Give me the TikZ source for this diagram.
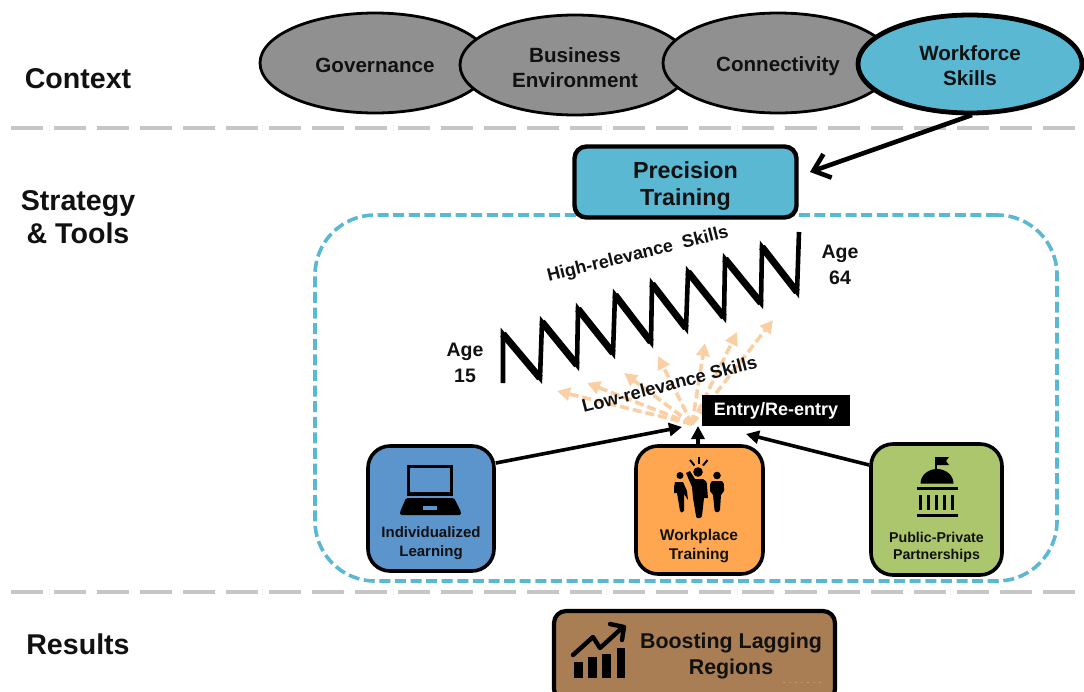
\documentclass[tikz,border=0pt]{standalone}
\usepackage{fontspec}
\setmainfont{Liberation Sans}
\usetikzlibrary{arrows.meta,shapes.geometric}
\definecolor{ink}{HTML}{111111}
\definecolor{ovalgray}{HTML}{909090}
\definecolor{teal}{HTML}{5AB8D3}
\definecolor{sepgray}{HTML}{C6C6C6}
\definecolor{boxblue}{HTML}{5C94CC}
\definecolor{boxorange}{HTML}{FFA750}
\definecolor{boxgreen}{HTML}{ABC66C}
\definecolor{boxbrown}{HTML}{A97E55}
\definecolor{peach}{HTML}{F9CFA3}
\definecolor{dotbrown}{HTML}{BC9A76}
\newcommand{\fs}[2]{\fontsize{#1}{#2}\selectfont\bfseries}
\newcommand{\dn}[2]{\raisebox{-#1pt}[\height][\depth]{#2}}
\tikzset{
  x=1pt,y=-1pt,
  oval/.style={ellipse,draw=black,line width=2.8pt,fill=ovalgray,text=ink,align=center,inner sep=0pt,minimum width=230pt,minimum height=100pt,font=\fs{20.6}{25}},
  sidelabel/.style={text=ink,align=center,inner sep=0pt,font=\fs{28.6}{33}},
  pillar/.style={rectangle,rounded corners=22pt,draw=black,line width=3.6pt,align=center,inner sep=0pt},
  sep/.style={draw=sepgray,line width=4.6pt,dash pattern=on 32pt off 11pt},
  link/.style={draw=black,line width=3.6pt,-{Triangle[length=13pt,width=13pt]}},
  fan/.style={draw=peach,line width=3.6pt,dash pattern=on 9pt off 4pt,-{Triangle[length=13pt,width=13pt]}},
  agelabel/.style={text=ink,align=center,inner sep=0pt,font=\fs{19.5}{26}},
  captionlabel/.style={text=ink,align=center,inner sep=0pt},
}
\begin{document}
\begin{tikzpicture}
\useasboundingbox (0,0) rectangle (1084,691);
% separators
\coordinate (s1a) at (11,128); \coordinate (s1b) at (1075,128);
\coordinate (s2a) at (11,592); \coordinate (s2b) at (1075,592);
\path[sep] (s1a) -- (s1b);
\path[sep] (s2a) -- (s2b);
% side labels
\node[sidelabel] (ctx) at (78,79) {Context};
\node[sidelabel] (strat) at (78,217.5) {Strategy\\\& Tools};
\node[sidelabel] (res) at (78,644) {Results};
% region
\node[draw=teal,line width=3.6pt,dash pattern=on 11pt off 4.6pt,rectangle,rounded corners=60pt,minimum width=742pt,minimum height=366pt,inner sep=0pt] (region) at (686,398) {};
% ovals
\node[oval] (gov) at (375,63) {\dn{2}{Governance}};
\node[oval] (biz) at (575,65) {\dn{3}{Business}\\\dn{3}{Environment}};
\node[oval] (con) at (778,63) {\dn{3}{Connectivity}};
\node[oval,fill=teal,line width=4.8pt,minimum width=224pt,minimum height=98pt] (wf) at (970,64) {\dn{2}{Workforce}\\\dn{2}{Skills}};
% precision
\node[pillar,rounded corners=12pt,fill=teal,line width=4.4pt,minimum width=222pt,minimum height=71pt,text=ink,font=\fs{23.3}{27}] (prec) at (685.5,182) {\dn{4}{Precision}\\\dn{4}{Training}};
\coordinate (precin) at (810,172);
\coordinate (wfout) at (972,115);
\draw[draw=black,line width=4.6pt,-{Straight Barb[length=15pt,width=25pt,line width=4.6pt]}] (wfout) -- (precin);
% zigzag: thinner rising strokes, heavy falling strokes
\draw[black,line width=4.6pt,miter limit=10,line join=miter]
 (503,383) -- (503,334) -- (540,378) -- (542,322) -- (577,365) -- (578,309) -- (613,353) -- (615,295)
 -- (651,342) -- (652,284) -- (686,328) -- (688,272) -- (724,317) -- (725,259) -- (761,303) -- (762,247)
 -- (797,292) -- (799,232);
\foreach \xa/\ya/\xb/\yb in {503/334/540/378,542/322/577/365,578/309/613/353,615/295/651/342,652/284/686/328,688/272/724/317,725/259/761/303,762/247/797/292}
  \draw[black,line width=7pt] (\xa,\ya) -- (\xb,\yb);
\node[agelabel] (a15) at (465,363) {Age\\15};
\node[agelabel] (a64) at (840,265) {Age\\64};
\node[captionlabel,rotate=14,font=\fs{18}{20}] (high) at (638,255) {High-relevance\ \ Skills};
% fan
\coordinate (fanO) at (692,424);
\coordinate (f1) at (557,391);
\coordinate (f2) at (587,383);
\coordinate (f3) at (624,373);
\coordinate (f4) at (658,356);
\coordinate (f5) at (705,343);
\coordinate (f6) at (737,332);
\coordinate (f7) at (773,320);
\foreach \t in {f1,f2,f3,f4,f5,f6,f7} \path[fan] (fanO) -- (\t);
\node[captionlabel,rotate=14.5,font=\fs{18.3}{20}] (low) at (669.5,384) {Low-relevance Skills};
\node[fill=black,text=white,minimum width=148pt,minimum height=31pt,inner sep=0pt,font=\fs{18}{20}] (entry) at (776,410.5) {Entry/Re-entry};
% boxes
\node[pillar,fill=boxblue,minimum width=126pt,minimum height=125pt] (ind) at (431,508.5) {};
\node[pillar,fill=boxorange,minimum width=127pt,minimum height=128pt] (wpt) at (699.5,510) {};
\node[pillar,fill=boxgreen,minimum width=131pt,minimum height=131pt] (ppp) at (936.5,509.5) {};
\node[captionlabel,font=\fs{15}{19}] (indt) at (431,543) {Individualized\\Learning};
\node[captionlabel,font=\fs{15.5}{19}] (wptt) at (699,546.5) {Workplace\\Training};
\node[captionlabel,font=\fs{14.2}{17}] (pppt) at (936.5,547.5) {Public-Private\\Partnerships};
% arrows into the entry point
\coordinate (inA) at (682,427);
\coordinate (inB) at (698,426);
\coordinate (inC) at (746,434);
\coordinate (outA) at (0,463);
\coordinate (outC) at (0,465);
\path[link] (ind.east |- outA) -- (inA);
\path[link] (wpt.north -| inB) -- (inB);
\path[link] (ppp.west |- outC) -- (inC);
% laptop
\draw[black,line width=3.6pt] (408.5,466.5) rectangle (451.5,494);
\fill[black,rounded corners=1.5pt] (406,498) -- (454,498) -- (461,512) -- (461,515) -- (400,515) -- (400,512) -- cycle;
\fill[boxblue] (423,506) rectangle (437,510);
% people
\fill[black] (698,472) circle (4.8);
\draw[black,line width=2pt] (690,460) -- (694.5,465.5);
\draw[black,line width=2pt] (699,457) -- (699,464);
\draw[black,line width=2pt] (707.5,460) -- (703,465.5);
\fill[black] (686,473) -- (690,471) -- (695,479) -- (703,479) .. controls (706,480) and (707,482) .. (707,486) -- (708,498) -- (704,498) -- (702,516) .. controls (701,519) and (696,519) .. (696,516) -- (693,498) -- (692,487) -- cycle;
\fill[black] (680,475.5) circle (3.5);
\fill[black] (675,482) -- (683,482) -- (687,491) -- (688,500) -- (684,494) -- (684,511) .. controls (683,513) and (680,513) .. (680,511) -- (677,493) -- (674,493) -- (674,487) -- cycle;
\fill[black] (717,475.5) circle (3.8);
\fill[black] (712,481) -- (722,481) .. controls (724,482) and (724,484) .. (724,491) -- (721,495) -- (720,510) .. controls (719,513) and (715,513) .. (714.5,510) -- (713,495) -- (710,491) .. controls (710,484) and (710,482) .. (712,481) -- cycle;
% building
\draw[black,line width=1.8pt] (936,457) -- (936,470);
\fill[black] (936,457) -- (949,457) -- (946,461) -- (949,465) -- (936,465) -- cycle;
\fill[black] (920.5,483.5) arc[start angle=180,end angle=360,x radius=16.5,y radius=14.5] -- cycle;
\fill[black] (917,487) rectangle (957.5,490);
\foreach \cx in {920.5,928.5,936.5,944.5,952.5} \fill[black] (\cx-1.7,495) rectangle (\cx+1.7,509.5);
\fill[black] (917,514) rectangle (957.5,517);
% results
\node[pillar,rounded corners=12pt,fill=boxbrown,line width=4.2pt,minimum width=281pt,minimum height=90pt] (boost) at (694.5,656) {};
\node[captionlabel,font=\fs{21.4}{26}] (boostt) at (731,656) {Boosting Lagging\\Regions};
\draw[dotbrown,line width=1pt,dash pattern=on 1.5pt off 4.5pt] (783,682) -- (822,682);
\fill[black] (574,662) rectangle (583,678);
\fill[black] (588,657) rectangle (597,678);
\fill[black] (602,654) rectangle (611,678);
\fill[black] (617,648) rectangle (625,678);
\draw[black,line width=4.4pt,line cap=round,line join=round] (573,655) -- (593,637) -- (600,648) -- (622,628);
\draw[black,line width=4.4pt,line cap=round,line join=round] (610,624) -- (624,627) -- (622,640);
\end{tikzpicture}
\end{document}
